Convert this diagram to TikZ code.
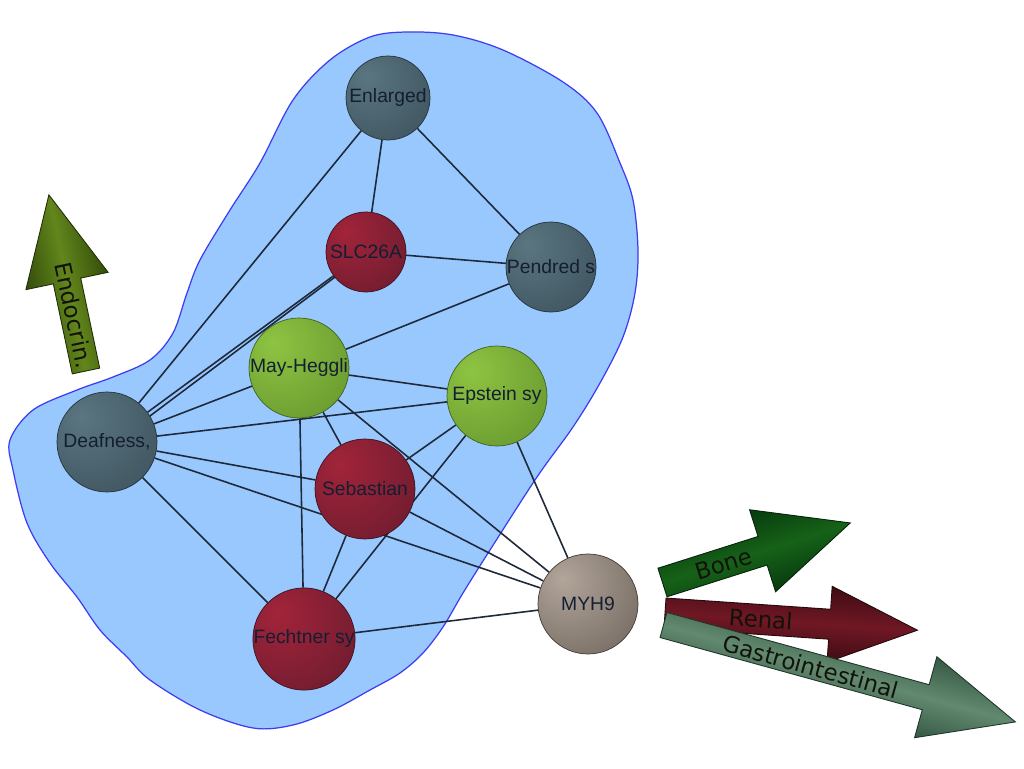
\documentclass[tikz,border=0pt]{standalone}
\usepackage{fontspec}
\setmainfont{Liberation Sans}
\newfontfamily\arrowfont{DejaVu Sans}

\pgfdeclarelayer{blob}
\pgfdeclarelayer{links}
\pgfsetlayers{blob,links,main}

% sphere colours: highlight / rim
\definecolor{slatehi}{RGB}{90,118,128}
\definecolor{slatelo}{RGB}{50,68,80}
\definecolor{redhi}{RGB}{162,36,58}
\definecolor{redlo}{RGB}{86,24,42}
\definecolor{greenhi}{RGB}{142,196,66}
\definecolor{greenlo}{RGB}{86,132,38}
\definecolor{taupehi}{RGB}{178,166,155}
\definecolor{taupelo}{RGB}{88,78,70}
% arrow colours: centre / edge
\definecolor{endohi}{RGB}{98,134,28}
\definecolor{endolo}{RGB}{52,76,10}
\definecolor{bonehi}{RGB}{22,98,24}
\definecolor{bonelo}{RGB}{8,58,14}
\definecolor{renalhi}{RGB}{112,24,36}
\definecolor{renallo}{RGB}{62,12,20}
\definecolor{gastrohi}{RGB}{98,138,112}
\definecolor{gastrolo}{RGB}{54,88,68}
% other colours
\definecolor{blobfill}{RGB}{153,200,255}
\definecolor{blobline}{RGB}{60,60,240}
\definecolor{linkcol}{RGB}{30,42,58}
\definecolor{labelcol}{RGB}{20,30,50}
\definecolor{arrowtext}{RGB}{18,18,10}

\pgfdeclareradialshading[nodehi,nodelo]{sphere}{\pgfpoint{-13bp}{13bp}}{%
  color(0bp)=(nodehi); color(62bp)=(nodelo); color(100bp)=(nodelo)}

\tikzset{
  ball/.style 2 args={circle, inner sep=0pt, draw=#2!75!black, line width=0.4pt,
    /utils/exec={\colorlet{nodehi}{#1}\colorlet{nodelo}{#2}},
    shade, shading=sphere, text=labelcol, font=\fontsize{11}{12}\selectfont},
  link/.style={draw=linkcol, line width=0.9pt},
  arrowbody/.style 2 args={draw=#2!60!black, line width=0.5pt,
    top color=#2, bottom color=#2, middle color=#1},
  arrowlabel/.style={font=\arrowfont\fontsize{13}{14}\selectfont, text=arrowtext, inner sep=0pt},
}

\begin{document}
\begin{tikzpicture}[x=0.02cm, y=0.02cm]
\useasboundingbox (0,0) rectangle (1024,768);

% background and the cluster region
\begin{pgfonlayer}{blob}
  \fill[white] (0,0) rectangle (1024,768);
  \path[fill=blobfill, draw=blobline, line width=0.7pt]
    plot[smooth cycle, tension=0.55] coordinates {
      (407,736) (453,733) (503,718) (563,686) (597,655) (620,605) (633,568)
      (638,518) (635,475) (623,431) (600,385) (573,341) (537,291) (490,218)
      (463,175) (443,141) (423,115) (400,95) (370,78) (333,58) (293,43)
      (253,40) (200,58) (150,88) (127,111) (100,138) (77,171) (50,205)
      (27,245) (13,298) (10,328) (33,358) (77,378) (113,391) (150,408)
      (173,435) (187,475) (200,508) (230,558) (260,605) (293,668) (330,708)
      (370,731)};
\end{pgfonlayer}

% nodes
\node[ball={slatehi}{slatelo}, minimum size=1.68cm] (en)   at (388,670) {Enlarged};
\node[ball={redhi}{redlo},     minimum size=1.60cm] (slc)  at (366,516) {SLC26A};
\node[ball={slatehi}{slatelo}, minimum size=1.80cm] (pen)  at (551,501) {Pendred s};
\node[ball={greenhi}{greenlo}, minimum size=2.00cm] (may)  at (299,400) {May-Heggli};
\node[ball={greenhi}{greenlo}, minimum size=2.00cm] (eps)  at (497,372) {Epstein sy};
\node[ball={slatehi}{slatelo}, minimum size=2.00cm] (deaf) at (107,326) {Deafness,};
\node[ball={redhi}{redlo},     minimum size=2.00cm] (seb)  at (365,279) {Sebastian};
\node[ball={redhi}{redlo},     minimum size=2.00cm] (fech) at (304,129) {Fechtner sy};
\node[ball={taupehi}{taupelo}, minimum size=2.00cm] (myh)  at (588,164) {MYH9};

% links
\begin{pgfonlayer}{links}
  \draw[link] (en) -- (slc);
  \draw[link] (en) -- (pen);
  \draw[link] (en) -- (deaf);
  \draw[link] (slc) -- (pen);
  \draw[link] (slc) -- (deaf);
  \draw[link] ([shift={(3,-4)}]deaf.center) -- ([shift={(1,-1)}]slc.center);
  \draw[link] (pen) -- (may);
  \draw[link] (may) -- (deaf);
  \draw[link] (may) -- (eps);
  \draw[link] (may) -- (seb);
  \draw[link] (may) -- (fech);
  \draw[link] (may) -- (myh);
  \draw[link] (eps) -- (deaf);
  \draw[link] (eps) -- (seb);
  \draw[link] (eps) -- (fech);
  \draw[link] (eps) -- (myh);
  \draw[link] (deaf) -- (seb);
  \draw[link] (deaf) -- (myh);
  \draw[link] (deaf) -- (fech);
  \draw[link] (seb) -- (fech);
  \draw[link] (seb) -- (myh);
  \draw[link] (fech) -- (myh);
\end{pgfonlayer}

% category arrows (bodies drawn in their own rotated frame)
\begin{scope}[transform canvas={shift={(86,397)}, rotate=101.9}]
  \path[arrowbody={endohi}{endolo}]
    (0,-14) -- (92,-14) -- (92,-42) -- (180,0) -- (92,42) -- (92,14) -- (0,14) -- cycle;
\end{scope}
\begin{scope}[transform canvas={shift={(665,155)}, rotate=-3.9}]
  \path[arrowbody={renalhi}{renallo}]
    (0,-15) -- (165,-15) -- (165,-38) -- (253,0) -- (165,38) -- (165,15) -- (0,15) -- cycle;
\end{scope}
\begin{scope}[transform canvas={shift={(662.5,185.5)}, rotate=17.6}]
  \path[arrowbody={bonehi}{bonelo}]
    (0,-15) -- (105,-15) -- (105,-43) -- (197,0) -- (105,43) -- (105,15) -- (0,15) -- cycle;
\end{scope}
\begin{scope}[transform canvas={shift={(663.5,143)}, rotate=-15.4}]
  \path[arrowbody={gastrohi}{gastrolo}]
    (0,-13) -- (272,-13) -- (272,-42) -- (365,0) -- (272,42) -- (272,13) -- (0,13) -- cycle;
\end{scope}

% arrow labels
\begin{scope}[shift={(86,397)}, rotate=101.9]
  \node[arrowlabel, rotate=-78.1] (endo) at (57,0) {Endocrin.};
\end{scope}
\begin{scope}[shift={(665,155)}, rotate=-3.9]
  \node[arrowlabel, rotate=-3.9] (renal) at (96,0) {Renal};
\end{scope}
\begin{scope}[shift={(662.5,185.5)}, rotate=17.6]
  \node[arrowlabel, rotate=17.6] (bone) at (64,-1) {Bone};
\end{scope}
\begin{scope}[shift={(663.5,143)}, rotate=-15.4]
  \node[arrowlabel, rotate=-15.4] (gastro) at (153,-1) {Gastrointestinal};
\end{scope}
\end{tikzpicture}
\end{document}
